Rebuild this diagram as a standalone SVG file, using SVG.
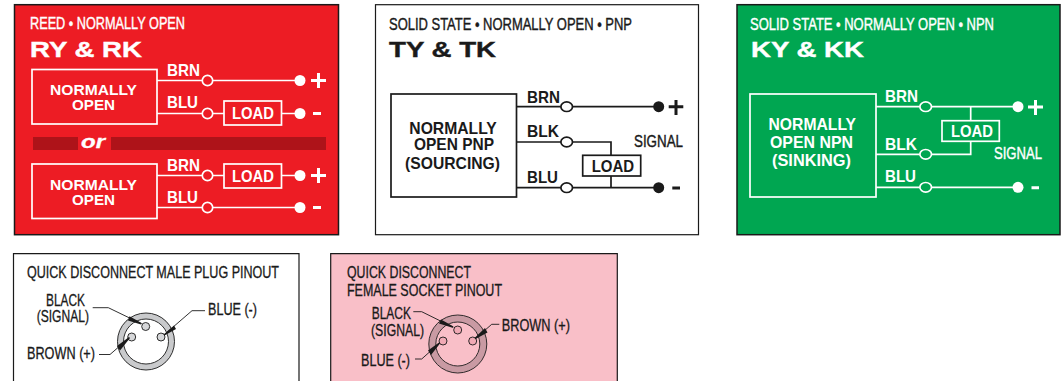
<svg xmlns="http://www.w3.org/2000/svg" width="1061" height="381" viewBox="0 0 1061 381">
<style>
text{font-family:"Liberation Sans",Arial,sans-serif;font-weight:700;font-size:16.500px}
.r{font-size:15.500px}
.n{font-size:16.500px;font-weight:400;stroke-width:.4px}
.s{font-size:16px;font-weight:400;stroke-width:.3px}
.h{font-size:21.500px;stroke-width:.4px}
.lw{fill:#fff}.lk{fill:#1a1a1a}
.h.lw,.n.lw{stroke:#fff}.h.lk,.n.lk,.s.lk{stroke:#1a1a1a}
.or{font-size:19px;font-style:italic;fill:#fff;stroke:#fff;stroke-width:.3px}
.pw{fill:none;stroke:#fff;stroke-width:1.700}
.pk{fill:none;stroke:#1a1a1a;stroke-width:1.700}
.thin{fill:none;stroke:#1a1a1a;stroke-width:.9}
.wedge{fill:#1a1a1a}
</style>

<g id="panel-reed">
<rect x="14.500" y="4.700" width="324" height="230" fill="#ed1c24" stroke="#1a1a1a" stroke-width="1.500"/>
<text class="n lw" x="30" y="29" textLength="155" lengthAdjust="spacingAndGlyphs">REED • NORMALLY OPEN</text>
<text class="h lw" x="30" y="57" textLength="112" lengthAdjust="spacingAndGlyphs">RY &amp; RK</text>
<rect x="33" y="137" width="45" height="13" fill="#ae1319"/>
<rect x="111" y="137" width="215" height="13" fill="#ae1319"/>
<text class="or" x="81" y="148" textLength="24" lengthAdjust="spacingAndGlyphs">or</text>
<text class="lw" x="167" y="76" textLength="33" lengthAdjust="spacingAndGlyphs">BRN</text>
<text class="lw" x="167" y="108" textLength="31" lengthAdjust="spacingAndGlyphs">BLU</text>
<text class="lw" x="167" y="171" textLength="33" lengthAdjust="spacingAndGlyphs">BRN</text>
<text class="lw" x="167" y="203" textLength="31" lengthAdjust="spacingAndGlyphs">BLU</text>
</g>

<g id="panel-pnp">
<rect x="375.500" y="4.700" width="323" height="230" fill="#fff" stroke="#1a1a1a" stroke-width="1.200"/>
<text class="n lk" x="389" y="29.500" textLength="243" lengthAdjust="spacingAndGlyphs">SOLID STATE • NORMALLY OPEN • PNP</text>
<text class="h lk" x="389" y="57" textLength="107" lengthAdjust="spacingAndGlyphs">TY &amp; TK</text>
<text class="lk" x="527" y="103" textLength="33" lengthAdjust="spacingAndGlyphs">BRN</text>
<text class="lk" x="527" y="137" textLength="32" lengthAdjust="spacingAndGlyphs">BLK</text>
<text class="lk" x="527" y="183" textLength="31" lengthAdjust="spacingAndGlyphs">BLU</text>
<text class="n lk" x="634" y="147" textLength="49" lengthAdjust="spacingAndGlyphs">SIGNAL</text>
</g>

<g id="panel-npn">
<rect x="737" y="4.700" width="323" height="230" fill="#00a651" stroke="#1a1a1a" stroke-width="1.500"/>
<text class="n lw" x="750" y="29.500" textLength="244" lengthAdjust="spacingAndGlyphs">SOLID STATE • NORMALLY OPEN • NPN</text>
<text class="h lw" x="751" y="57" textLength="113" lengthAdjust="spacingAndGlyphs">KY &amp; KK</text>
<text class="lw" x="885" y="102" textLength="33" lengthAdjust="spacingAndGlyphs">BRN</text>
<text class="lw" x="885" y="149.500" textLength="32" lengthAdjust="spacingAndGlyphs">BLK</text>
<text class="lw" x="885" y="182" textLength="31" lengthAdjust="spacingAndGlyphs">BLU</text>
<text class="n lw" x="994" y="159" textLength="48" lengthAdjust="spacingAndGlyphs">SIGNAL</text>
</g>

<g id="connectors">
<path class="pw" d="M157 80.500H300M157 113.500H300M157 175.500H300M157 207.500H300"/>
<path class="pk" d="M516 106.700H659M516 142H611V188M516 187.700H659"/>
<path class="pw" d="M876 106.700H1018M876 154.300H970.700V106.700M876 187.300H1018"/>
</g>

<g id="reed-upper">
<rect class="pw" x="32" y="69.500" width="125" height="54.500"/>
<text class="lw r" x="50" y="95" textLength="87" lengthAdjust="spacingAndGlyphs">NORMALLY</text>
<text class="lw r" x="72" y="110" textLength="43" lengthAdjust="spacingAndGlyphs">OPEN</text>
</g>
<g id="reed-upper-load">
<rect x="224" y="101" width="57.500" height="24" fill="#ed1c24" stroke="#fff" stroke-width="1.700"/>
<text class="lw" x="232" y="119" textLength="42" lengthAdjust="spacingAndGlyphs">LOAD</text>
</g>
<g id="reed-lower">
<rect class="pw" x="32" y="164" width="125" height="54.500"/>
<text class="lw r" x="50" y="190" textLength="87" lengthAdjust="spacingAndGlyphs">NORMALLY</text>
<text class="lw r" x="72" y="205" textLength="43" lengthAdjust="spacingAndGlyphs">OPEN</text>
</g>
<g id="reed-lower-load">
<rect x="224" y="164" width="57.500" height="24" fill="#ed1c24" stroke="#fff" stroke-width="1.700"/>
<text class="lw" x="232" y="182" textLength="42" lengthAdjust="spacingAndGlyphs">LOAD</text>
</g>
<g id="reed-terminals" fill="#ed1c24" stroke="#fff" stroke-width="1.700">
<circle cx="207.500" cy="80.500" r="5.200"/><circle cx="207.500" cy="113.500" r="5.200"/><circle cx="207.500" cy="175.500" r="5.200"/><circle cx="207.500" cy="207.500" r="5.200"/>
<g fill="#fff" stroke="none">
<circle cx="300" cy="80.500" r="5.500"/><circle cx="300" cy="113.500" r="5.500"/><circle cx="300" cy="175.500" r="5.500"/><circle cx="300" cy="207.500" r="5.500"/>
<path d="M311 79H326V82H311ZM317 73H320V88H317ZM311 174H326V177H311ZM317 168H320V183H317ZM313 112H321V115H313ZM313 206H321V209H313Z"/>
</g>
</g>

<g id="pnp-sensor">
<rect class="pk" x="391" y="94" width="125.500" height="103"/>
<text class="lk" x="409.300" y="134" textLength="87.500" lengthAdjust="spacingAndGlyphs">NORMALLY</text>
<text class="lk" x="414" y="150" textLength="80" lengthAdjust="spacingAndGlyphs">OPEN PNP</text>
<text class="lk" x="405" y="169" textLength="95" lengthAdjust="spacingAndGlyphs">(SOURCING)</text>
</g>
<g id="pnp-load">
<rect x="582.700" y="155.300" width="58" height="20.700" fill="#fff" stroke="#1a1a1a" stroke-width="1.700"/>
<text class="lk" x="591.700" y="172.300" textLength="42.500" lengthAdjust="spacingAndGlyphs">LOAD</text>
</g>
<g id="pnp-terminals" fill="#fff" stroke="#1a1a1a" stroke-width="1.700">
<ellipse cx="566.700" cy="106.700" rx="5.800" ry="4.800"/><ellipse cx="566.700" cy="142" rx="5.800" ry="4.800"/><ellipse cx="566.700" cy="187.700" rx="5.800" ry="4.800"/>
<g fill="#1a1a1a" stroke="none">
<circle cx="658.700" cy="106.700" r="5.500"/><circle cx="658.700" cy="187.700" r="5.500"/>
<path d="M668.700 105.200H683.300V108.200H668.700ZM674.500 100H677.500V115H674.500ZM672.300 186.500H680V189.500H672.300Z"/>
</g>
</g>

<g id="npn-sensor">
<rect class="pw" x="750" y="94" width="126" height="103"/>
<text class="lw" x="768.500" y="130" textLength="87.500" lengthAdjust="spacingAndGlyphs">NORMALLY</text>
<text class="lw" x="770" y="148" textLength="83" lengthAdjust="spacingAndGlyphs">OPEN NPN</text>
<text class="lw" x="772" y="165.700" textLength="79" lengthAdjust="spacingAndGlyphs">(SINKING)</text>
</g>
<g id="npn-load">
<rect x="942" y="120.700" width="57.300" height="20.600" fill="#00a651" stroke="#fff" stroke-width="1.700"/>
<text class="lw" x="951" y="137" textLength="42" lengthAdjust="spacingAndGlyphs">LOAD</text>
</g>
<g id="npn-terminals" fill="#00a651" stroke="#fff" stroke-width="1.700">
<ellipse cx="925.700" cy="106.700" rx="5.800" ry="4.800"/><ellipse cx="925.700" cy="154.300" rx="5.800" ry="4.800"/><ellipse cx="925.700" cy="187.300" rx="5.800" ry="4.800"/>
<g fill="#fff" stroke="none">
<circle cx="1018" cy="106.700" r="5.500"/><circle cx="1018" cy="187.300" r="5.500"/>
<path d="M1028 105.500H1043V108.500H1028ZM1034 100H1037V115H1034ZM1031.500 186.300H1039V189.300H1031.500Z"/>
</g>
</g>

<g id="panel-male">
<path d="M13.500 381V253.700H299V381" fill="#fff" stroke="#1a1a1a" stroke-width="1.200"/>
<text class="s lk" x="27" y="278.300" textLength="252" lengthAdjust="spacingAndGlyphs">QUICK DISCONNECT MALE PLUG PINOUT</text>
<text class="s lk" x="46" y="306" textLength="39" lengthAdjust="spacingAndGlyphs">BLACK</text>
<text class="s lk" x="36.700" y="322.300" textLength="52.300" lengthAdjust="spacingAndGlyphs">(SIGNAL)</text>
<text class="s lk" x="208" y="315" textLength="49" lengthAdjust="spacingAndGlyphs">BLUE (-)</text>
<text class="s lk" x="27" y="359.300" textLength="68" lengthAdjust="spacingAndGlyphs">BROWN (+)</text>
<circle cx="146" cy="341.500" r="25.500" fill="none" stroke="#c9cacc" stroke-width="6"/>
<circle cx="146" cy="341.500" r="28.500" class="thin"/><circle cx="146" cy="341.500" r="22.500" class="thin"/>
<g fill="#d6d7d9" stroke="#1a1a1a" stroke-width=".9">
<circle cx="145.700" cy="326.500" r="4"/><circle cx="131.700" cy="337" r="4"/><circle cx="161" cy="337" r="4"/>
</g>
<path class="thin" d="M92.700 307.700H108.300L141 323.500M205 310.700H192L165 334M99 354.500H110L129 338"/>
<path class="wedge" d="M129.500 316.300L142 323.300L141 324.500L128 320.500ZM174 325.500L163.500 334.500L164.500 335.500L176 329ZM117 346L129 337L130 338L120 350.500Z"/>
</g>

<g id="panel-female">
<path d="M330.700 381V253.700H617.300V381" fill="#f9bfc8" stroke="#1a1a1a" stroke-width="1.200"/>
<text class="s lk" x="347" y="278.300" textLength="124" lengthAdjust="spacingAndGlyphs">QUICK DISCONNECT</text>
<text class="s lk" x="347" y="295.700" textLength="155" lengthAdjust="spacingAndGlyphs">FEMALE SOCKET PINOUT</text>
<text class="s lk" x="371.700" y="319" textLength="39.300" lengthAdjust="spacingAndGlyphs">BLACK</text>
<text class="s lk" x="371" y="335.700" textLength="53" lengthAdjust="spacingAndGlyphs">(SIGNAL)</text>
<text class="s lk" x="501.700" y="331" textLength="68.300" lengthAdjust="spacingAndGlyphs">BROWN (+)</text>
<text class="s lk" x="361" y="366" textLength="49" lengthAdjust="spacingAndGlyphs">BLUE (-)</text>
<circle cx="457.800" cy="344" r="25.500" fill="none" stroke="#c99aa3" stroke-width="6.500"/>
<circle cx="457.800" cy="344" r="29" class="thin"/><circle cx="457.800" cy="344" r="22" class="thin"/>
<g fill="#f0aab5" stroke="#1a1a1a" stroke-width=".9">
<circle cx="457.700" cy="330" r="4"/><circle cx="443" cy="341" r="4"/><circle cx="472.700" cy="341" r="4"/>
</g>
<path class="thin" d="M413.300 311.700H421.700L453.300 327.300M499.300 324.300H491.700L475 339M415 359H421.700L439.300 343.300"/>
<path class="wedge" d="M441 319.500L453.500 326.500L452.500 327.800L439 323.500ZM485 328L474.500 338L475.500 339L487.500 332.500ZM428 350.500L439 342.500L440 343.500L431 355Z"/>
</g>
</svg>
